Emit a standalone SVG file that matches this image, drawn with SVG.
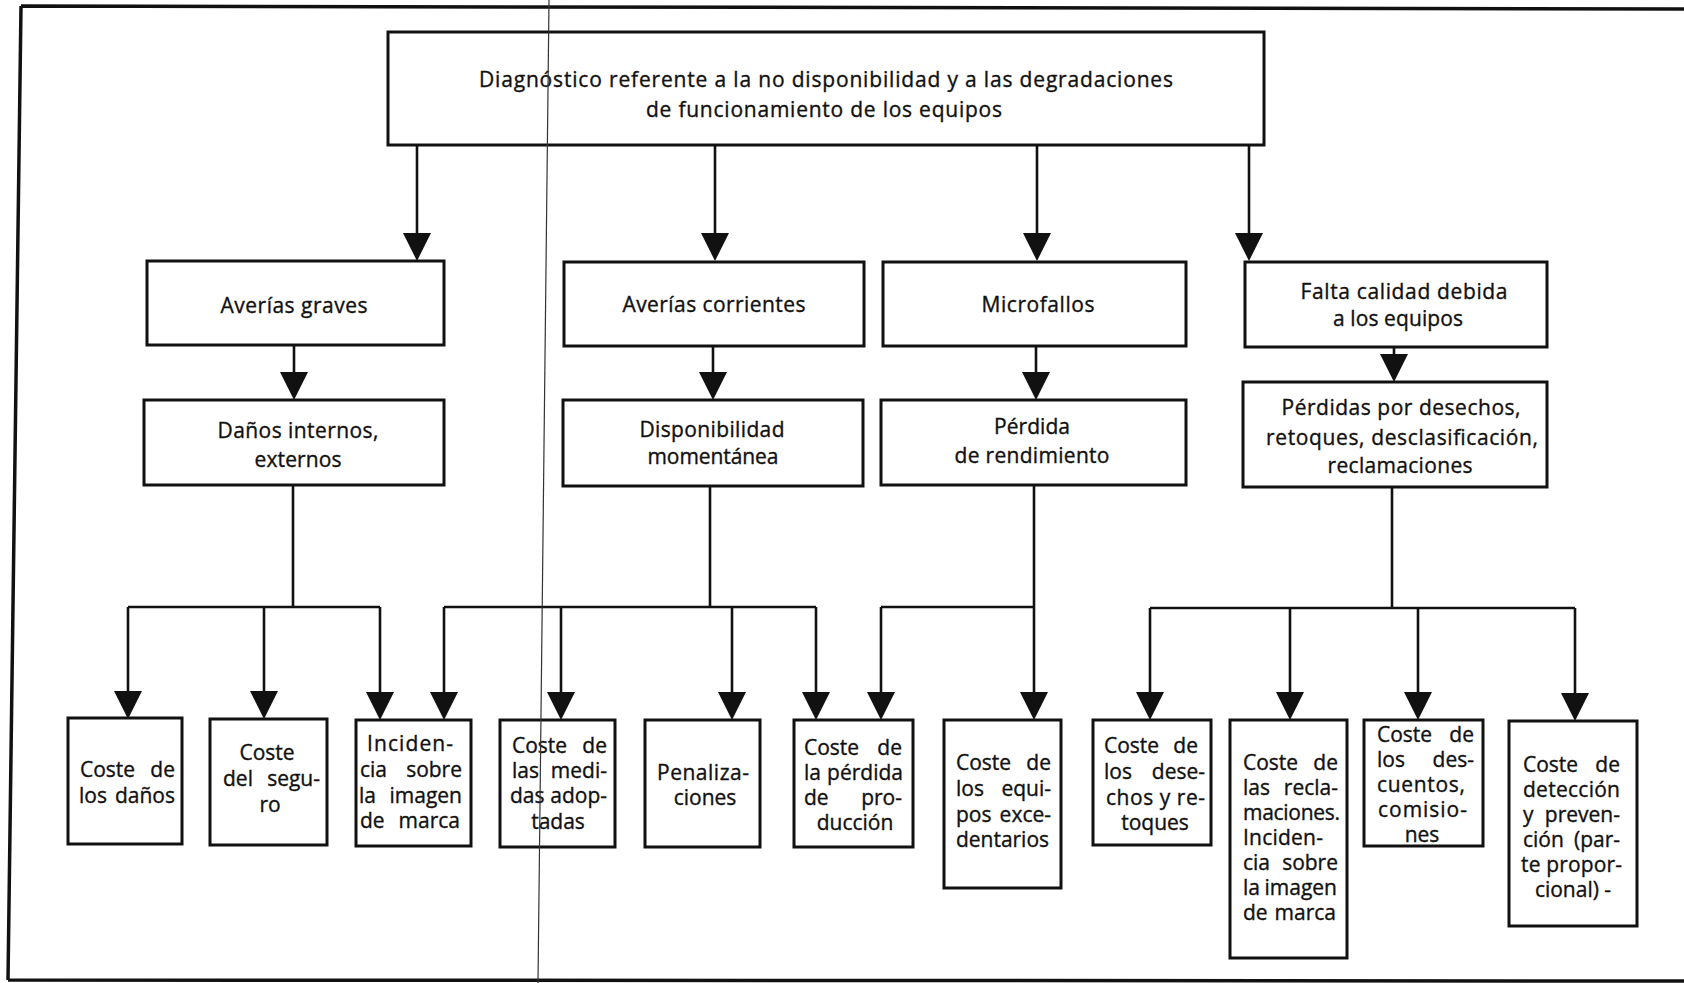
<svg xmlns="http://www.w3.org/2000/svg" xmlns:xlink="http://www.w3.org/1999/xlink" width="1684" height="983" viewBox="0 0 1684 983">
<style>
.box{fill:#fff;stroke:#111;stroke-width:3}
.ln{fill:none;stroke:#111;stroke-width:2.6}
.fr{fill:none;stroke:#111;stroke-width:3.5}
text{font-family:"Open Sans","Liberation Sans",sans-serif;font-size:21px;fill:#111;stroke:#111;stroke-width:0.35}
.m{text-anchor:middle}
.e{text-anchor:end}
</style>
<defs>
<path id="ah" d="M-14,-28 L14,-28 L0,0 Z" fill="#111"/>
</defs>
<rect width="1684" height="983" fill="#fff"/>
<g id="frame">
<path class="fr" d="M21,6 L1684,9 M21,6 L8,980 M8,980 L1684,981"/>
</g>
<g id="connectors">
<path class="ln" d="M417,145 V255 M715,145 V255 M1037,145 V255 M1249,145 V255"/>
<path class="ln" d="M294,345 V395 M713,346 V395 M1036,346 V395 M1394,347 V377"/>
<path class="ln" d="M293,485 V607 M128,607 H380 M128,607 V714 M264,607 V714 M380,607 V714"/>
<path class="ln" d="M710,486 V607 M444,607 H816 M444,607 V714 M561,607 V714 M732,607 V714 M816,607 V714"/>
<path class="ln" d="M1034,485 V714 M881,607 H1034 M881,607 V714"/>
<path class="ln" d="M1392,487 V608 M1150,608 H1575 M1150,608 V714 M1290,608 V714 M1418,608 V714 M1575,608 V714"/>
<use xlink:href="#ah" x="417" y="261"/>
<use xlink:href="#ah" x="715" y="261"/>
<use xlink:href="#ah" x="1037" y="261"/>
<use xlink:href="#ah" x="1249" y="261"/>
<use xlink:href="#ah" x="294" y="400"/>
<use xlink:href="#ah" x="713" y="400"/>
<use xlink:href="#ah" x="1036" y="400"/>
<use xlink:href="#ah" x="1394" y="382"/>
<use xlink:href="#ah" x="128" y="719"/>
<use xlink:href="#ah" x="264" y="719"/>
<use xlink:href="#ah" x="380" y="720"/>
<use xlink:href="#ah" x="444" y="720"/>
<use xlink:href="#ah" x="561" y="720"/>
<use xlink:href="#ah" x="732" y="720"/>
<use xlink:href="#ah" x="816" y="720"/>
<use xlink:href="#ah" x="881" y="720"/>
<use xlink:href="#ah" x="1034" y="720"/>
<use xlink:href="#ah" x="1150" y="720"/>
<use xlink:href="#ah" x="1290" y="720"/>
<use xlink:href="#ah" x="1418" y="720"/>
<use xlink:href="#ah" x="1575" y="721"/>
</g>
<g id="n-root">
<rect class="box" x="388" y="32" width="876" height="113"/>
<text class="m" x="826" y="87" textLength="694">Diagnóstico referente a la no disponibilidad y a las degradaciones</text>
<text class="m" x="824" y="117" textLength="356">de funcionamiento de los equipos</text>
</g>
<g id="n-graves">
<rect class="box" x="147" y="261" width="297" height="84"/>
<text class="m" x="294" y="313" textLength="147">Averías graves</text>
</g>
<g id="n-corrientes">
<rect class="box" x="564" y="262" width="300" height="84"/>
<text class="m" x="714" y="312" textLength="183">Averías corrientes</text>
</g>
<g id="n-microfallos">
<rect class="box" x="883" y="262" width="303" height="84"/>
<text class="m" x="1038" y="312" textLength="113">Microfallos</text>
</g>
<g id="n-calidad">
<rect class="box" x="1245" y="262" width="302" height="85"/>
<text class="m" x="1404" y="299" textLength="207">Falta calidad debida</text>
<text class="m" x="1398" y="326" textLength="130">a los equipos</text>
</g>
<g id="n-danos">
<rect class="box" x="144" y="400" width="300" height="85"/>
<text class="m" x="298" y="438" textLength="161">Daños internos,</text>
<text class="m" x="298" y="467" textLength="87">externos</text>
</g>
<g id="n-disponibilidad">
<rect class="box" x="563" y="400" width="300" height="86"/>
<text class="m" x="712" y="437" textLength="145">Disponibilidad</text>
<text class="m" x="713" y="464" textLength="131">momentánea</text>
</g>
<g id="n-perdida">
<rect class="box" x="881" y="400" width="305" height="85"/>
<text class="m" x="1032" y="434" textLength="76">Pérdida</text>
<text class="m" x="1032" y="463" textLength="155">de rendimiento</text>
</g>
<g id="n-perdidas">
<rect class="box" x="1243" y="382" width="304" height="105"/>
<text class="m" x="1401" y="415" textLength="239">Pérdidas por desechos,</text>
<text class="m" x="1402" y="445" textLength="272">retoques, desclasificación,</text>
<text class="m" x="1400" y="473" textLength="145">reclamaciones</text>
</g>
<g id="n-c1">
<rect class="box" x="68" y="718" width="114" height="126"/>
<text y="777"><tspan x="80">Coste </tspan><tspan class="e" x="175">de</tspan></text>
<text y="803"><tspan x="79">los </tspan><tspan class="e" x="175">daños</tspan></text>
</g>
<g id="n-c2">
<rect class="box" x="210" y="719" width="117" height="126"/>
<text class="m" x="267" y="760">Coste</text>
<text y="786"><tspan x="223">del </tspan><tspan class="e" x="320">segu-</tspan></text>
<text class="m" x="270" y="812">ro</text>
</g>
<g id="n-c3">
<rect class="box" x="356" y="720" width="115" height="126"/>
<text x="367" y="751" textLength="86">Inciden-</text>
<text y="777"><tspan x="360">cia </tspan><tspan class="e" x="462">sobre</tspan></text>
<text y="803"><tspan x="359">la </tspan><tspan class="e" x="462">imagen</tspan></text>
<text y="828"><tspan x="360">de </tspan><tspan class="e" x="460">marca</tspan></text>
</g>
<g id="n-c4">
<rect class="box" x="500" y="720" width="115" height="127"/>
<text y="753"><tspan x="512">Coste </tspan><tspan class="e" x="607">de</tspan></text>
<text y="778"><tspan x="512">las </tspan><tspan class="e" x="607">medi-</tspan></text>
<text y="803"><tspan x="510">das </tspan><tspan class="e" x="607">adop-</tspan></text>
<text class="m" x="558" y="829">tadas</text>
</g>
<g id="n-c5">
<rect class="box" x="645" y="720" width="115" height="127"/>
<text x="657" y="780" textLength="92">Penaliza-</text>
<text class="m" x="705" y="805">ciones</text>
</g>
<g id="n-c6">
<rect class="box" x="794" y="720" width="119" height="127"/>
<text y="755"><tspan x="804">Coste </tspan><tspan class="e" x="902">de</tspan></text>
<text y="780"><tspan x="804">la </tspan><tspan class="e" x="903">pérdida</tspan></text>
<text y="805"><tspan x="804">de </tspan><tspan class="e" x="902">pro-</tspan></text>
<text class="m" x="855" y="830">ducción</text>
</g>
<g id="n-c7">
<rect class="box" x="944" y="720" width="117" height="168"/>
<text y="770"><tspan x="956">Coste </tspan><tspan class="e" x="1051">de</tspan></text>
<text y="796"><tspan x="956">los </tspan><tspan class="e" x="1051">equi-</tspan></text>
<text y="822"><tspan x="956">pos </tspan><tspan class="e" x="1051">exce-</tspan></text>
<text x="956" y="847" textLength="93">dentarios</text>
</g>
<g id="n-c8">
<rect class="box" x="1093" y="720" width="118" height="125"/>
<text y="753"><tspan x="1104">Coste </tspan><tspan class="e" x="1198">de</tspan></text>
<text y="779"><tspan x="1104">los </tspan><tspan class="e" x="1205">dese-</tspan></text>
<text x="1106" y="805" textLength="99">chos y re-</text>
<text class="m" x="1155" y="830">toques</text>
</g>
<g id="n-c9">
<rect class="box" x="1230" y="720" width="117" height="238"/>
<text y="770"><tspan x="1243">Coste </tspan><tspan class="e" x="1338">de</tspan></text>
<text y="795"><tspan x="1243">las </tspan><tspan class="e" x="1338">recla-</tspan></text>
<text x="1243" y="820" textLength="97">maciones.</text>
<text x="1243" y="845" textLength="80">Inciden-</text>
<text y="870"><tspan x="1243">cia </tspan><tspan class="e" x="1338">sobre</tspan></text>
<text y="895"><tspan x="1243">la </tspan><tspan class="e" x="1337">imagen</tspan></text>
<text y="920"><tspan x="1243">de </tspan><tspan class="e" x="1336">marca</tspan></text>
</g>
<g id="n-c10">
<rect class="box" x="1364" y="720" width="119" height="126"/>
<text y="742"><tspan x="1377">Coste </tspan><tspan class="e" x="1474">de</tspan></text>
<text y="767"><tspan x="1377">los </tspan><tspan class="e" x="1474">des-</tspan></text>
<text x="1377" y="792" textLength="88">cuentos,</text>
<text x="1378" y="817" textLength="89">comisio-</text>
<text class="m" x="1422" y="842">nes</text>
</g>
<g id="n-c11">
<rect class="box" x="1509" y="721" width="128" height="205"/>
<text y="772"><tspan x="1523">Coste </tspan><tspan class="e" x="1620">de</tspan></text>
<text x="1523" y="797" textLength="97">detección</text>
<text y="822"><tspan x="1523">y </tspan><tspan class="e" x="1620">preven-</tspan></text>
<text y="847"><tspan x="1523">ción </tspan><tspan class="e" x="1620">(par-</tspan></text>
<text x="1521" y="872" textLength="101">te propor-</text>
<text class="m" x="1573" y="897">cional) -</text>
</g>
<g id="scanline">
<path d="M549,0 L538,983" fill="none" stroke="#333" stroke-width="1.2"/>
</g>
</svg>
